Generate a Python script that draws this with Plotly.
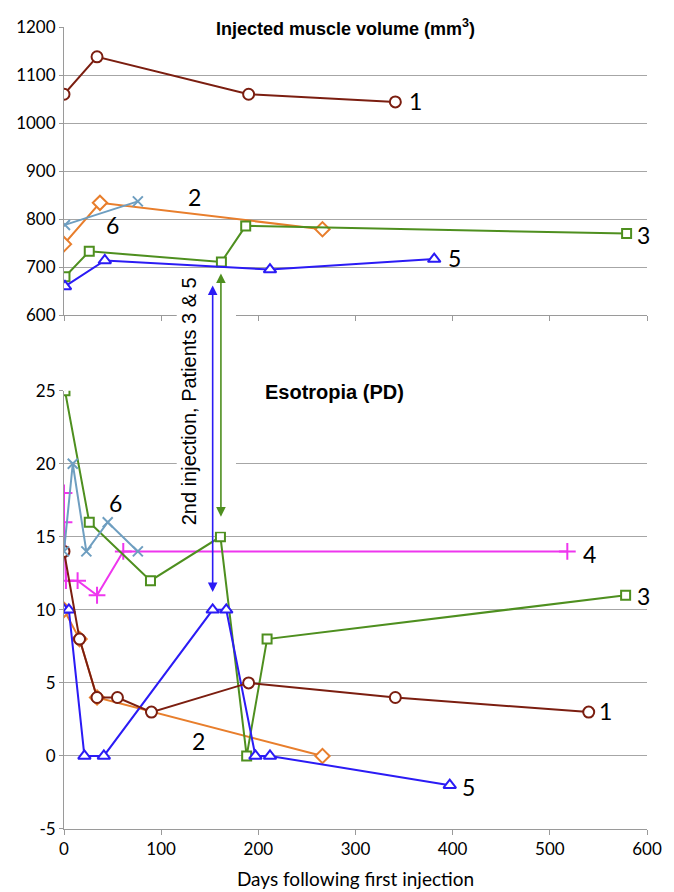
import plotly.graph_objects as go

# ---------------- data ----------------
# Injected muscle volume (mm^3)
p1_vol_days = [0, 34, 190, 341]
p1_vol = [1060, 1138, 1060, 1044]
p2_vol_days = [0, 37, 266]
p2_vol = [748, 834, 779]
p3_vol_days = [1, 26, 162, 187, 579]
p3_vol = [680, 733, 711, 786, 770]
p5_vol_days = [1, 42, 212, 381]
p5_vol = [660, 714, 695, 717]
p6_vol_days = [1, 76]
p6_vol = [788, 837]

# Esotropia (PD)
p1_eso_days = [0, 16, 34, 55, 90, 190, 341, 540]
p1_eso = [14, 8, 4, 4, 3, 5, 4, 3]
p2_eso_days = [0, 16, 34, 266]
p2_eso = [10, 8, 4, 0]
p3_eso_days = [1, 26, 89, 161, 188, 209, 578]
p3_eso = [25, 16, 12, 15, 0, 8, 11]
p4_eso_days = [0, 0, 2, 14, 34, 61, 518]
p4_eso = [18, 16, 12, 12, 11, 14, 14]
p5_eso_days = [0, 5, 21, 41, 153, 167, 197, 212, 397]
p5_eso = [10, 10, 0, 0, 10, 10, 0, 0, -2]
p6_eso_days = [0, 9, 23, 45, 76]
p6_eso = [14, 20, 14, 16, 14]

vol_labels = [("1", 362, 1045), ("2", 134, 846), ("6", 50, 788), ("3", 596, 766), ("5", 402, 720)]
eso_labels = [("6", 53, 17.3), ("4", 541, 13.8), ("3", 596, 10.95), ("1", 557, 3.1), ("2", 138, 1.05), ("5", 416, -2.1)]

x_ticks = [0, 100, 200, 300, 400, 500, 600]
vol_ticks = [600, 700, 800, 900, 1000, 1100, 1200]
eso_ticks = [-5, 0, 5, 10, 15, 20, 25]
eso_tick_text = ["-5", "0", "5", "10", "15", "20", "25"]

# second injection arrows (day, top head volume, bottom head PD)
blue_arrow = (153, 662, 11.4)
green_arrow = (161.5, 687, 16.5)

# ---------------- styles ----------------
C1, C2, C3, C4, C5, C6 = "#7B1E10", "#E87E2C", "#4E8F1F", "#EE36EE", "#2B1BF5", "#6E9EC0"
W, H = 674, 892
MT, MB, ML, MR = 8, 71, 52, 35
PH = H - MT - MB
dom_top = [0.6406, 1.0]
dom_bot = [0.0, 0.5465]
rng_top = [600, 1200]
rng_bot = [-5, 25]


def paper_top(v):
    return dom_top[0] + (v - rng_top[0]) / (rng_top[1] - rng_top[0]) * (dom_top[1] - dom_top[0])


def paper_bot(v):
    return dom_bot[0] + (v - rng_bot[0]) / (rng_bot[1] - rng_bot[0]) * (dom_bot[1] - dom_bot[0])


fig = go.Figure()


def add(days, vals, color, symbol, size, xa, ya, fill="white"):
    fig.add_trace(go.Scatter(
        x=days, y=vals, mode="lines+markers", xaxis=xa, yaxis=ya,
        line=dict(color=color, width=2),
        marker=dict(symbol=symbol, size=size, color=fill, line=dict(color=color, width=2)),
        showlegend=False, hoverinfo="skip"))


# top panel
add(p1_vol_days, p1_vol, C1, "circle", 11, "x2", "y2")
add(p2_vol_days, p2_vol, C2, "diamond", 11, "x2", "y2")
add(p6_vol_days, p6_vol, C6, "x-thin", 10, "x2", "y2")
add(p3_vol_days, p3_vol, C3, "square", 9, "x2", "y2")
add(p5_vol_days, p5_vol, C5, "triangle-up", 11, "x2", "y2")

# bottom panel
add(p2_eso_days, p2_eso, C2, "diamond", 11, "x", "y")
add(p4_eso_days, p4_eso, C4, "cross-thin", 12, "x", "y")
add(p3_eso_days, p3_eso, C3, "square", 9, "x", "y")
add(p5_eso_days, p5_eso, C5, "triangle-up", 11, "x", "y")
add(p1_eso_days, p1_eso, C1, "circle", 11, "x", "y")
add(p6_eso_days, p6_eso, C6, "x-thin", 10, "x", "y")

grid = "#A6A6A6"
axc = "#9A9A9A"
tickfont = dict(family="Lato, Arial, sans-serif", size=17, color="black")

annotations = []
for t, d, v in vol_labels:
    annotations.append(dict(text=t, x=d, y=v, xref="x2", yref="y2", showarrow=False,
                            font=dict(family="Lato, sans-serif", size=23, color="black")))
for t, d, v in eso_labels:
    annotations.append(dict(text=t, x=d, y=v, xref="x", yref="y", showarrow=False,
                            font=dict(family="Lato, sans-serif", size=23, color="black")))

annotations.append(dict(text="<b>Injected muscle volume (mm<sup>3</sup>)</b>", x=290, y=1200,
                        xref="x2", yref="y2", showarrow=False, yanchor="middle",
                        font=dict(family="Liberation Sans, Arial, sans-serif", size=18, color="black")))
annotations.append(dict(text="<b>Esotropia (PD)</b>", x=278, y=24.9, xref="x", yref="y",
                        showarrow=False, yanchor="middle",
                        font=dict(family="Liberation Sans, Arial, sans-serif", size=20, color="black")))

annotations.append(dict(text="2nd injection, Patients 3 &amp; 5", textangle=-90, x=129,
                        y=paper_bot(24.3), xref="x", yref="paper", showarrow=False,
                        xanchor="center", yanchor="middle",
                        font=dict(family="Liberation Sans, Arial, sans-serif", size=20, color="black")))

for (day, vtop, vbot), col in [(blue_arrow, C5), (green_arrow, C3)]:
    ytop = paper_top(vtop)
    ybot = paper_bot(vbot)
    L = (ytop - ybot) * PH
    annotations.append(dict(text="", x=day, y=ytop, xref="x", yref="paper",
                            ax=0, ay=L, axref="pixel", ayref="pixel",
                            showarrow=True, arrowside="end+start", arrowhead=2, startarrowhead=2,
                            arrowsize=1.2, startarrowsize=1.2, arrowwidth=1.6, arrowcolor=col,
                            standoff=0, startstandoff=0))

shapes = [dict(type="rect", xref="x", yref="paper", x0=116, x1=177,
               y0=paper_bot(15.35), y1=paper_top(683), fillcolor="white",
               line=dict(width=0), layer="above")]

fig.update_layout(
    width=W, height=H, paper_bgcolor="white", plot_bgcolor="white",
    margin=dict(l=ML, r=MR, t=MT, b=MB),
    xaxis=dict(domain=[0, 1], anchor="y", range=[0, 600], tickvals=x_ticks,
               showgrid=False, zeroline=False, showline=True, linecolor=axc, linewidth=1,
               ticks="outside", ticklen=5, tickcolor=axc, tickfont=tickfont,
               title=dict(text="Days following first injection",
                          font=dict(family="Lato, Arial, sans-serif", size=19, color="black"),
                          standoff=14)),
    yaxis=dict(domain=dom_bot, anchor="x", range=rng_bot, tickvals=eso_ticks,
               ticktext=eso_tick_text,
               showgrid=False, zeroline=False, showline=True, linecolor=axc, linewidth=1,
               ticks="outside", ticklen=4, tickcolor=axc, tickfont=tickfont,
               minor=dict(tickvals=[0, 5, 10, 15, 20], showgrid=True, gridcolor=grid,
                          gridwidth=1, ticks="")),
    xaxis2=dict(domain=[0, 1], anchor="y2", range=[0, 600], tickvals=x_ticks,
                showticklabels=False, showgrid=False, zeroline=False, showline=True,
                linecolor=axc, linewidth=1, ticks="outside", ticklen=5, tickcolor=axc),
    yaxis2=dict(domain=dom_top, anchor="x2", range=rng_top, tickvals=vol_ticks,
                showgrid=False, zeroline=False, showline=True, linecolor=axc, linewidth=1,
                ticks="outside", ticklen=4, tickcolor=axc, tickfont=tickfont,
                minor=dict(tickvals=[700, 800, 900, 1000, 1100], showgrid=True, gridcolor=grid,
                           gridwidth=1, ticks="")),
    annotations=annotations, shapes=shapes,
)

fig.write_html("out.html")
